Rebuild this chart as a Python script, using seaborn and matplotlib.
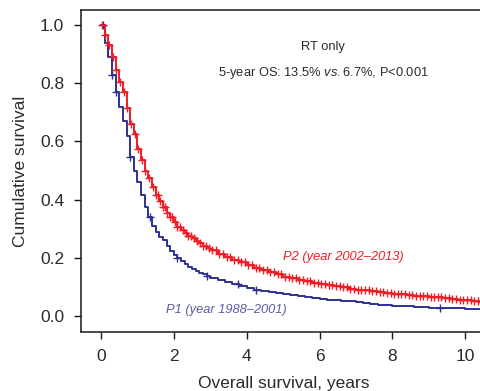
import numpy as np
import pandas as pd
import matplotlib
matplotlib.use("Agg")
import matplotlib.pyplot as plt
import seaborn as sns

# ---- data ----
p2_time = [0.0, 0.1, 0.2, 0.3, 0.4, 0.5, 0.6, 0.7, 0.8, 0.9, 1.0, 1.1, 1.2, 1.3, 1.4,
           1.5, 1.6, 1.7, 1.8, 1.9, 2.0, 2.1, 2.2, 2.3, 2.4, 2.5, 2.6, 2.7, 2.8, 2.9,
           3.0, 3.2, 3.4, 3.6, 3.8, 4.0, 4.2, 4.4, 4.6, 4.8, 5.0, 5.2, 5.4, 5.6, 5.8,
           6.0, 6.2, 6.4, 6.6, 6.8, 7.0, 7.2, 7.4, 7.6, 7.8, 8.0, 8.2, 8.4, 8.6, 8.8,
           9.0, 9.2, 9.4, 9.6, 9.8, 10.0, 10.2, 10.4, 10.6]
p2_surv = [1.0, 0.965, 0.93, 0.89, 0.845, 0.805, 0.77, 0.715, 0.66, 0.625, 0.575, 0.535,
           0.50, 0.475, 0.445, 0.415, 0.395, 0.375, 0.355, 0.34, 0.322, 0.305, 0.295,
           0.285, 0.276, 0.268, 0.258, 0.25, 0.24, 0.233, 0.226, 0.213, 0.203, 0.193,
           0.184, 0.175, 0.166, 0.158, 0.151, 0.144, 0.135, 0.129, 0.124, 0.119, 0.115,
           0.111, 0.107, 0.102, 0.098, 0.094, 0.091, 0.088, 0.085, 0.082, 0.079, 0.077,
           0.074, 0.072, 0.070, 0.068, 0.066, 0.064, 0.062, 0.059, 0.056, 0.054, 0.051,
           0.049, 0.047]
p2_censor = [0.02, 0.12, 0.22, 0.32, 0.42, 0.52, 0.62, 0.72, 0.82, 0.92, 1.02, 1.12,
             1.22, 1.32, 1.42, 1.5, 1.56, 1.62, 1.7, 1.76, 1.82, 1.9, 1.96, 2.02, 2.1,
             2.16, 2.24, 2.32, 2.4, 2.48, 2.56, 2.64, 2.72, 2.8, 2.88, 2.96, 3.05, 3.15,
             3.25, 3.35, 3.45, 3.55, 3.65, 3.75, 3.85, 3.95, 4.05, 4.15, 4.25, 4.35,
             4.45, 4.55, 4.65, 4.75, 4.85, 4.95, 5.05, 5.15, 5.25, 5.35, 5.45, 5.55,
             5.65, 5.75, 5.85, 5.95, 6.05, 6.15, 6.25, 6.35, 6.45, 6.55, 6.65, 6.75,
             6.85, 6.95, 7.05, 7.15, 7.25, 7.35, 7.45, 7.55, 7.65, 7.75, 7.85, 7.95,
             8.05, 8.15, 8.25, 8.35, 8.45, 8.55, 8.65, 8.75, 8.85, 8.95, 9.05, 9.15,
             9.25, 9.35, 9.45, 9.55, 9.65, 9.75, 9.85, 9.95, 10.05, 10.15, 10.25,
             10.35, 10.45]

p1_time = [0.0, 0.1, 0.2, 0.3, 0.4, 0.5, 0.6, 0.7, 0.8, 0.9, 1.0, 1.1, 1.2, 1.3, 1.4,
           1.5, 1.6, 1.7, 1.8, 1.9, 2.0, 2.1, 2.2, 2.3, 2.4, 2.5, 2.6, 2.7, 2.8, 2.9,
           3.0, 3.2, 3.4, 3.6, 3.8, 4.0, 4.2, 4.4, 4.6, 4.8, 5.0, 5.2, 5.4, 5.6, 5.8,
           6.0, 6.2, 6.4, 6.6, 6.8, 7.0, 7.2, 7.4, 7.6, 7.8, 8.0, 8.2, 8.4, 8.6, 8.8,
           9.0, 9.2, 9.4, 9.6, 9.8, 10.0, 10.2, 10.4, 10.6]
p1_surv = [1.0, 0.94, 0.89, 0.83, 0.77, 0.72, 0.67, 0.62, 0.545, 0.50, 0.46, 0.415,
           0.375, 0.34, 0.31, 0.29, 0.272, 0.26, 0.24, 0.225, 0.21, 0.199, 0.19, 0.18,
           0.17, 0.162, 0.155, 0.149, 0.143, 0.137, 0.132, 0.124, 0.117, 0.11, 0.103,
           0.097, 0.091, 0.087, 0.083, 0.079, 0.074, 0.071, 0.068, 0.065, 0.062, 0.058,
           0.056, 0.055, 0.052, 0.050, 0.047, 0.044, 0.041, 0.039, 0.037, 0.036, 0.034,
           0.033, 0.031, 0.030, 0.029, 0.028, 0.027, 0.026, 0.026, 0.025, 0.025, 0.024,
           0.024]
p1_censor = [0.05, 0.3, 0.4, 0.8, 1.35, 2.1, 2.9, 3.75, 4.25, 9.3]

x_ticks = [0, 2, 4, 6, 8, 10]
y_ticks = [0.0, 0.2, 0.4, 0.6, 0.8, 1.0]
y_ticklabels = ["0.0", "0.2", "0.4", "0.6", "0.8", "1.0"]

RED = "#ee1c25"
NAVY = "#2e3192"
LBLUE = "#5b5ba8"
TXT = "#2b2b2b"

sns.set_style("white")
plt.rcParams["font.family"] = ["Liberation Sans", "DejaVu Sans"]
plt.rcParams["mathtext.fontset"] = "custom"
plt.rcParams["mathtext.rm"] = "Liberation Sans"
plt.rcParams["mathtext.it"] = "Liberation Sans:italic"

fig = plt.figure(figsize=(4.8, 3.91), dpi=100)
ax = fig.add_axes([81 / 480, 1 - 332 / 391, (487 - 81) / 480, (332 - 10) / 391])

df2 = pd.DataFrame({"t": p2_time, "s": p2_surv})
df1 = pd.DataFrame({"t": p1_time, "s": p1_surv})

sns.lineplot(data=df1, x="t", y="s", ax=ax, color=NAVY, lw=1.4,
             drawstyle="steps-post", estimator=None, sort=False)
sns.lineplot(data=df2, x="t", y="s", ax=ax, color=RED, lw=1.4,
             drawstyle="steps-post", estimator=None, sort=False)


def at(times, surv, pts):
    idx = np.searchsorted(np.array(times), np.array(pts), side="right") - 1
    return np.array(surv)[idx]


c1 = pd.DataFrame({"t": p1_censor, "s": at(p1_time, p1_surv, p1_censor)})
sns.scatterplot(data=c1, x="t", y="s", ax=ax, marker="+", color=NAVY, s=40,
                linewidth=1.0, zorder=3)
c2 = pd.DataFrame({"t": p2_censor, "s": at(p2_time, p2_surv, p2_censor)})
sns.scatterplot(data=c2, x="t", y="s", ax=ax, marker="+", color=RED, s=40,
                linewidth=1.0, zorder=4)

ax.set_xlim(-0.55, 10.6)
ax.set_ylim(-0.055, 1.052)
ax.set_xticks(x_ticks)
ax.set_xticklabels([str(v) for v in x_ticks])
ax.set_yticks(y_ticks)
ax.set_yticklabels(y_ticklabels)

for sp in ["left", "bottom", "top"]:
    ax.spines[sp].set_color("#1a1a1a")
    ax.spines[sp].set_linewidth(1.1)
ax.spines["right"].set_visible(False)

ax.tick_params(axis="both", direction="out", length=5, width=1.0, color="#1a1a1a",
               labelsize=12.5, labelcolor=TXT, pad=7, left=True, bottom=True)

ax.set_xlabel("Overall survival, years", fontsize=12.5, color=TXT, labelpad=9)
ax.set_ylabel("Cumulative survival", fontsize=12.5, color=TXT, labelpad=9)

ax.text(6.1, 0.925, "RT only", ha="center", va="center", fontsize=9.3, color=TXT)
ax.text(6.1, 0.835, "5-year OS: 13.5% $\\it{vs.}$6.7%, P<0.001", ha="center",
        va="center", fontsize=9.3, color=TXT)
ax.text(6.65, 0.203, "P2 (year 2002\u20132013)", ha="center", va="center",
        fontsize=9.3, color=RED, style="italic")
ax.text(3.45, 0.02, "P1 (year 1988\u20132001)", ha="center", va="center",
        fontsize=9.3, color=LBLUE, style="italic")

fig.savefig("out.png", dpi=100)
